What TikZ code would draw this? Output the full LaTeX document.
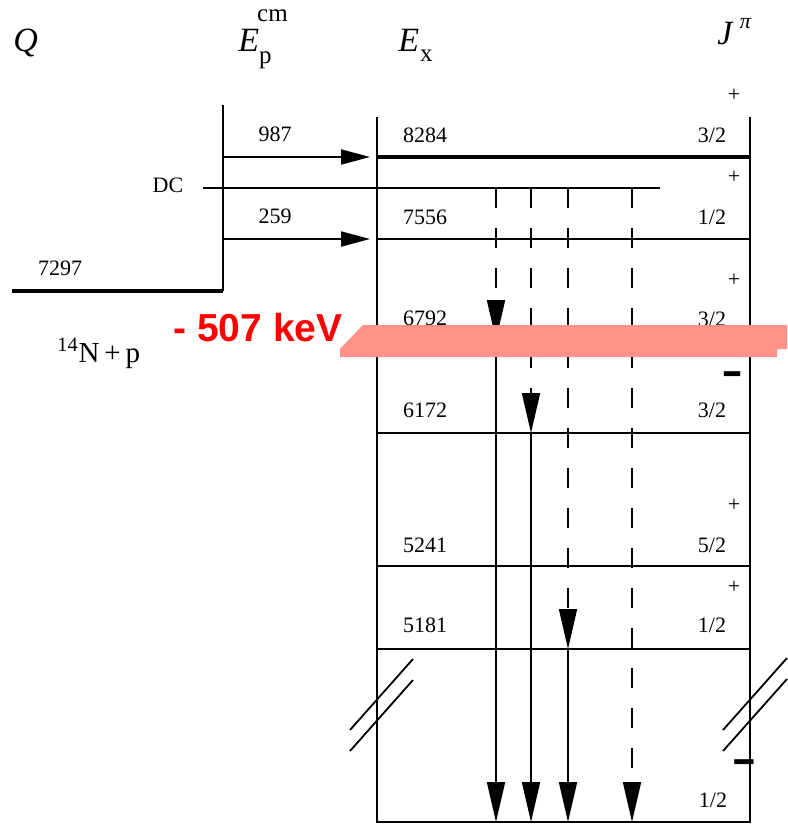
\documentclass[tikz,border=0pt]{standalone}
\usepackage{fontspec}
\setmainfont{Liberation Serif}
\newfontfamily\kevfont{Liberation Sans}
\usetikzlibrary{arrows.meta}
\definecolor{bandpink}{RGB}{255,146,136}
\definecolor{kevred}{RGB}{255,0,0}
\begin{document}
\begin{tikzpicture}[x=0.5pt,y=-0.5pt,
  lbl/.style={font=\fontsize{11}{13}\selectfont, inner sep=0pt, anchor=base},
  sgn/.style={font=\fontsize{11}{13}\selectfont, inner sep=0pt},
  neg/.style={font=\fontsize{16}{18}\selectfont\bfseries, inner sep=0pt},
  hdr/.style={font=\fontsize{17}{20}\selectfont, inner sep=0pt, anchor=base west},
  frameline/.style={line width=1.2pt},
  levelline/.style={line width=1.2pt},
  strongline/.style={line width=2pt},
  dcline/.style={line width=0.9pt},
  feed/.style={line width=0.9pt, -{Triangle[length=14.5pt,width=7.5pt]}},
  gsolid/.style={line width=0.9pt, -{Triangle[length=20pt,width=9pt]}},
  gdashed/.style={gsolid, dash pattern=on 10pt off 10pt},
  breakmark/.style={line width=0.9pt},
]
\useasboundingbox (0,0) rectangle (787,824);

% ---------- coordinates ----------
\coordinate (fTL) at (377,117);
\coordinate (fBL) at (377,822);
\coordinate (fBR) at (750,822);
\coordinate (fTR) at (750,117);
\coordinate (epTop) at (223,105);
\coordinate (epBot) at (223,291);
\coordinate (qW) at (12,291);
\coordinate (dcW) at (203,188);
\coordinate (dcE) at (660,188);
\foreach \n/\y in {a/157,b/239,c/340,d/433,e/566,f/649}{
  \coordinate (L\n w) at (377,\y);
  \coordinate (L\n e) at (750,\y);
}
\coordinate (in987s) at (223,157);
\coordinate (in987e) at (370,157);
\coordinate (in259s) at (223,239);
\coordinate (in259e) at (370,239);
% gamma lines
\coordinate (gAtop) at (496,188); \coordinate (gAmid) at (496,340); \coordinate (gAbot) at (496,822);
\coordinate (gBtop) at (531,188); \coordinate (gBmid) at (531,433); \coordinate (gBbot) at (531,822);
\coordinate (gCtop) at (568,188); \coordinate (gCmid) at (568,649); \coordinate (gCbot) at (568,822);
\coordinate (gDtop) at (632,188); \coordinate (gDbot) at (632,822);
% break marks
\coordinate (bk1a) at (350,730); \coordinate (bk1b) at (413,659);
\coordinate (bk2a) at (350,751); \coordinate (bk2b) at (413,680);
\coordinate (bk3a) at (723,730); \coordinate (bk3b) at (787,658);
\coordinate (bk4a) at (723,751); \coordinate (bk4b) at (787,679);

% ---------- frame and levels ----------
\draw[frameline] (fTL) -- (fBL) -- (fBR) -- (fTR);
\draw[strongline] (Law) -- (Lae);
\foreach \n in {b,c,d,e,f}{ \draw[levelline] (L\n w) -- (L\n e); }
\draw[frameline] (epTop) -- (epBot);
\draw[strongline] (qW) -- (epBot);
\draw[dcline] (dcW) -- (dcE);
\draw[feed] (in987s) -- (in987e);
\draw[feed] (in259s) -- (in259e);

% ---------- gamma transitions ----------
\draw[gdashed] (gAtop) -- (gAmid);
\draw[gsolid] (gAmid) -- (gAbot);
\draw[gdashed] (gBtop) -- (gBmid);
\draw[gsolid] (gBmid) -- (gBbot);
\draw[gdashed] (gCtop) -- (gCmid);
\draw[gsolid] (gCmid) -- (gCbot);
\draw[gdashed] (gDtop) -- (gDbot);

% ---------- break marks ----------
\draw[breakmark] (bk1a) -- (bk1b);
\draw[breakmark] (bk2a) -- (bk2b);
\draw[breakmark] (bk3a) -- (bk3b);
\draw[breakmark] (bk4a) -- (bk4b);

% ---------- headers ----------
\node[hdr] (hQ) at (13,52) {\textit{Q}};
\node[hdr] (hEp) at (238,52) {\textit{E}\rlap{\kern0pt\raisebox{-6pt}{\fontsize{12.5}{14}\selectfont p}}\rlap{\kern-1pt\raisebox{15pt}{\fontsize{12.5}{14}\selectfont cm}}};
\node[hdr] (hEx) at (398,52) {\textit{E}\kern0.5pt\raisebox{-5pt}{\fontsize{12.5}{14}\selectfont x}};
\node[hdr] (hJ) at (717,45) {\textit{J}\kern3pt\raisebox{8pt}{\fontsize{11}{13}\selectfont\textit{π}}};

% ---------- left labels ----------
\node[lbl] (t987) at (275,141) {987};
\node[lbl] (t259) at (275,223) {259};
\node[lbl] (tDC) at (168,192) {DC};
\node[lbl] (t7297) at (60,275) {7297};
\node[font=\fontsize{14.5}{17}\selectfont, inner sep=0pt, anchor=base west] (tN) at (57,362) {\textsuperscript{14}N\,+\,p};

% ---------- energies ----------
\node[lbl] (e8284) at (425,142) {8284};
\node[lbl] (e7556) at (425,224) {7556};
\node[lbl] (e6792) at (425,325) {6792};
\node[lbl] (e6172) at (425,417) {6172};
\node[lbl] (e5241) at (425,552) {5241};
\node[lbl] (e5181) at (425,632) {5181};

% ---------- spins ----------
\node[lbl] (j1) at (712,142) {3/2};
\node[lbl] (j2) at (712,224) {1/2};
\node[lbl] (j3) at (712,326) {3/2};
\node[lbl] (j4) at (712,417) {3/2};
\node[lbl] (j5) at (712,552) {5/2};
\node[lbl] (j6) at (712,632) {1/2};
\node[lbl] (j7) at (713,807) {1/2};
\node[sgn] (p1) at (734,95) {+};
\node[sgn] (p2) at (734,177) {+};
\node[sgn] (p3) at (734,280) {+};
\node[sgn] (p5) at (734,505) {+};
\node[sgn] (p6) at (734,587) {+};
\node[neg] (m4) at (733,385) {\scalebox{1.1}[2.2]{−}};
\node[neg] (m7) at (744,773) {\scalebox{1.3}[2.2]{−}};

% ---------- highlight band and annotation ----------
\fill[bandpink] (340,357) -- (340,349) -- (363,325) -- (787,325) -- (787,349) -- (777,349) -- (777,357) -- cycle;
\node[font=\kevfont\bfseries\fontsize{19.5}{22}\selectfont, text=kevred, inner sep=0pt, anchor=base west] (kev) at (173,341) {- 507 keV};
\end{tikzpicture}
\end{document}
